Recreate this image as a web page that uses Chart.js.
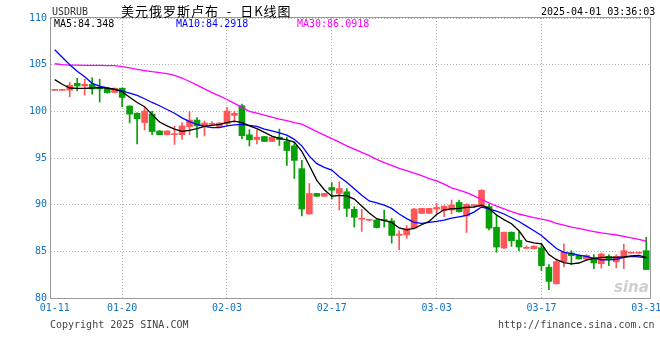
<!DOCTYPE html>
<html>
<head>
<meta charset="utf-8">
<script src="https://cdn.jsdelivr.net/npm/chart.js@4.4.1/dist/chart.umd.min.js"></script>
<style>
  body { margin: 0; background: #fff; }
  #wrap { position: relative; width: 660px; height: 360px; }
  #c { position: absolute; left: 0; top: 0; }
  .t { position: absolute; font: 10px 'DejaVu Sans Mono', monospace; line-height: 12px; white-space: nowrap; }
</style>
</head>
<body>
<div id="wrap">
  <canvas id="c" width="660" height="360"></canvas>
  <div class="t" style="left:52px;top:6px;color:#333">USDRUB</div>
  <div class="t" style="left:121px;top:3px;font:13px 'Noto Sans CJK SC';line-height:15px;letter-spacing:1px;color:#000">美元俄罗斯卢布&nbsp;&nbsp;-&nbsp;&nbsp;日K线图</div>
  <div class="t" style="left:541px;top:6px;color:#000">2025-04-01 03:36:03</div>
  <div class="t" style="left:54px;top:18px;color:#000">MA5:84.348</div>
  <div class="t" style="left:176px;top:18px;color:#0000ff">MA10:84.2918</div>
  <div class="t" style="left:297px;top:18px;color:#ff00ff">MA30:86.0918</div>
  <div class="t" style="left:50px;top:319px;color:#444">Copyright 2025 SINA.COM</div>
  <div class="t" style="left:498px;top:319px;color:#444">http://finance.sina.com.cn</div>
  <div class="t" style="left:614px;top:280px;font:italic bold 15px 'DejaVu Sans';line-height:15px;color:#cfcfcf">sina</div>
</div>
<script>
// daily candles 2025-01-11 .. 2025-03-31
const dates = [
  '01-11','01-12','01-13','01-14','01-15','01-16','01-17','01-18','01-19','01-20',
  '01-21','01-22','01-23','01-24','01-25','01-26','01-27','01-28','01-29','01-30',
  '01-31','02-01','02-02','02-03','02-04','02-05','02-06','02-07','02-08','02-09',
  '02-10','02-11','02-12','02-13','02-14','02-15','02-16','02-17','02-18','02-19',
  '02-20','02-21','02-22','02-23','02-24','02-25','02-26','02-27','02-28','03-01',
  '03-02','03-03','03-04','03-05','03-06','03-07','03-08','03-09','03-10','03-11',
  '03-12','03-13','03-14','03-15','03-16','03-17','03-18','03-19','03-20','03-21',
  '03-22','03-23','03-24','03-25','03-26','03-27','03-28','03-29','03-30','03-31'
];

const opens = [
  102.25,102.25,102.27,103.0,102.72,102.9,102.6,102.45,102.02,102.48,
  100.56,99.8,98.8,99.71,97.9,97.5,97.5,97.5,98.36,99.07,
  98.44,98.6,98.36,98.68,99.57,100.6,97.48,96.98,97.3,96.77,
  97.23,96.77,96.3,93.86,89.0,91.2,90.9,91.84,91.2,91.38,
  89.5,88.44,88.33,88.36,88.4,88.26,86.7,86.77,87.48,89.07,
  89.07,89.53,89.36,89.43,90.24,88.8,89.9,89.8,89.8,87.58,
  85.35,87.05,86.2,85.32,85.28,85.38,83.3,81.52,83.9,84.82,
  84.57,84.18,84.29,83.68,84.47,83.87,84.4,84.8,84.8,85.07
];
const highs = [
  102.3,102.3,103.1,103.54,103.44,103.6,103.44,102.5,102.5,102.5,
  100.6,99.85,100.4,100.03,97.92,97.92,98.4,98.8,99.96,99.32,
  98.97,98.9,98.78,100.43,100.03,100.78,98.04,98.0,97.32,97.25,
  98.1,97.23,96.7,94.74,92.27,91.22,91.22,92.37,92.45,91.73,
  89.79,89.5,88.4,88.4,89.43,88.54,87.2,87.77,89.6,89.62,
  89.62,90.14,89.9,90.5,90.5,90.1,89.95,91.6,90.03,88.9,
  87.05,87.08,87.1,85.6,85.58,85.88,83.57,84.2,85.8,85.07,
  84.6,84.65,84.64,84.82,84.64,84.64,85.78,84.88,84.9,86.5
];
const lows = [
  102.25,102.25,101.55,102.19,101.73,101.84,101.0,101.95,101.98,100.5,
  98.75,96.5,98.0,97.5,97.48,97.48,96.45,96.98,97.5,97.2,
  97.37,98.5,98.34,98.47,98.83,97.05,96.28,96.5,96.75,96.75,
  96.34,94.2,92.8,88.79,88.98,90.88,90.88,90.6,89.43,88.72,
  87.6,87.13,88.3,87.5,87.6,85.88,85.17,86.4,87.4,89.05,
  89.05,88.9,88.72,89.0,89.2,87.02,89.85,89.78,87.3,84.9,
  85.3,85.53,85.07,85.3,85.26,82.94,80.9,81.5,83.33,83.57,
  84.15,84.1,83.15,83.22,83.47,83.22,83.15,84.78,84.78,83.05
];
const closes = [
  102.28,102.28,102.8,102.72,102.9,102.4,102.4,102.0,102.48,101.49,
  99.7,99.2,100.03,97.83,97.5,97.9,97.6,98.44,99.07,98.44,
  98.75,98.72,98.75,100.03,99.79,97.4,96.95,97.23,96.77,97.23,
  96.98,95.8,94.74,89.53,91.2,90.9,91.2,91.55,91.73,89.6,
  88.65,88.55,88.38,87.55,88.3,86.7,86.84,87.45,89.53,89.6,
  89.6,89.7,89.84,89.96,89.26,90.03,89.95,91.55,87.48,85.46,
  87.05,86.13,85.46,85.43,85.56,83.47,81.78,83.9,84.93,84.53,
  84.18,84.57,83.76,84.71,84.1,84.47,85.07,84.85,84.85,83.05
];

// moving averages
const ma5 = [
  103.4,102.9,102.5,102.45,102.45,102.5,102.55,102.5,102.35,102.1,
  101.5,100.95,100.5,99.65,98.85,98.45,98.1,97.85,97.95,98.15,
  98.4,98.5,98.6,98.8,98.95,98.8,98.45,98.15,97.75,97.35,
  97.1,96.95,96.7,95.7,94.2,92.6,91.6,90.9,91.0,90.95,
  90.6,89.85,89.1,88.5,88.3,88.1,87.5,87.3,87.45,87.85,
  88.2,88.95,89.45,89.55,89.6,89.7,89.75,89.95,89.6,88.9,
  88.4,87.95,87.2,86.1,85.9,85.8,84.65,84.1,83.8,83.65,
  83.75,84.05,84.25,84.35,84.35,84.35,84.4,84.5,84.57,84.35
];
const ma10 = [
  106.6,105.8,105.0,104.3,103.7,103.0,102.7,102.5,102.35,102.2,
  101.95,101.7,101.35,100.95,100.6,100.2,99.8,99.3,98.9,98.6,
  98.4,98.25,98.25,98.45,98.55,98.6,98.5,98.4,98.1,97.9,
  97.7,97.45,97.0,96.3,95.2,94.4,94.0,93.7,93.0,92.4,
  91.7,91.0,90.4,90.2,89.95,89.6,89.0,88.5,88.1,88.0,
  88.1,88.2,88.35,88.55,88.7,88.85,89.2,89.75,89.55,89.3,
  89.0,88.6,88.2,87.7,87.2,86.7,86.0,85.3,84.9,84.75,
  84.6,84.45,84.25,84.1,84.1,84.15,84.35,84.45,84.4,84.29
];
const ma30 = [
  105.1,105.0,104.95,104.95,104.93,104.93,104.92,104.9,104.9,104.8,
  104.65,104.5,104.37,104.25,104.15,104.05,103.85,103.57,103.2,102.8,
  102.4,102.0,101.65,101.27,100.85,100.43,100.0,99.8,99.6,99.37,
  99.17,99.0,98.8,98.62,98.22,97.83,97.45,97.07,96.7,96.3,
  95.95,95.6,95.25,94.85,94.5,94.2,93.9,93.65,93.37,93.1,
  92.8,92.55,92.2,91.8,91.55,91.3,90.95,90.55,90.2,89.85,
  89.55,89.25,89.0,88.8,88.6,88.45,88.3,88.0,87.8,87.6,
  87.45,87.28,87.12,86.97,86.87,86.75,86.6,86.43,86.28,86.09
];

const tickLabels = ['01-11', '01-20', '02-03', '02-17', '03-03', '03-17', '03-31'];
const gridDates = ['01-20', '02-03', '02-17', '03-03', '03-17'];

const UP = '#ff5757';
const DOWN = '#07a007';
const LABEL_BLUE = '#1173c4';
const GRID = '#b4b4b4';
const monoFont = { family: "'DejaVu Sans Mono', monospace", size: 10 };

const candleColors = opens.map((o, i) => closes[i] >= o ? UP : DOWN);

// plot frame
const framePlugin = {
    id: 'frame',
    afterDatasetsDraw(chart) {
        const { ctx, chartArea: a } = chart;
        ctx.save();
        ctx.strokeStyle = '#9a9a9a';
        ctx.lineWidth = 1;
        ctx.strokeRect(a.left - 0.5, a.top - 0.5, a.right - a.left + 1, a.bottom - a.top + 1);
        ctx.restore();
    }
};

new Chart(document.getElementById('c'), {
    data: {
        labels: dates,
        datasets: [
            { type: 'line', label: 'MA5', data: ma5, borderColor: '#000000', borderWidth: 1.3, pointRadius: 0, tension: 0 },
            { type: 'line', label: 'MA10', data: ma10, borderColor: '#0000ff', borderWidth: 1.3, pointRadius: 0, tension: 0 },
            { type: 'line', label: 'MA30', data: ma30, borderColor: '#ff00ff', borderWidth: 1.3, pointRadius: 0, tension: 0 },
            {
                type: 'bar', label: 'body',
                data: opens.map((o, i) => [o, closes[i]]),
                backgroundColor: candleColors,
                barThickness: 6, minBarLength: 1, grouped: false
            },
            {
                type: 'bar', label: 'wick',
                data: lows.map((l, i) => [l, highs[i]]),
                backgroundColor: candleColors,
                barThickness: 1, grouped: false
            }
        ]
    },
    options: {
        responsive: false,
        devicePixelRatio: 1,
        animation: false,
        events: [],
        layout: { padding: { top: 18, right: 10, left: 0, bottom: 0 } },
        plugins: {
            legend: { display: false },
            tooltip: { enabled: false }
        },
        scales: {
            x: {
                offset: true,
                grid: {
                    offset: false,
                    drawTicks: false,
                    color: c => gridDates.includes(dates[c.index]) ? GRID : 'rgba(0,0,0,0)'
                },
                border: { display: false, dash: [1, 2] },
                ticks: {
                    autoSkip: false,
                    maxRotation: 0,
                    padding: 4,
                    color: LABEL_BLUE,
                    font: monoFont,
                    callback: (v, i) => tickLabels.includes(dates[i]) ? dates[i] : ''
                },
                afterFit: s => { s.height = 62; s.paddingLeft = 0; s.paddingRight = 0; }
            },
            y: {
                min: 80,
                max: 110,
                grid: { color: GRID, drawTicks: false },
                border: { display: false, dash: [1, 2] },
                ticks: { stepSize: 5, padding: 4, color: LABEL_BLUE, font: monoFont },
                afterFit: s => { s.width = 51; s.paddingTop = 0; s.paddingBottom = 0; }
            }
        }
    },
    plugins: [framePlugin]
});
</script>
</body>
</html>
